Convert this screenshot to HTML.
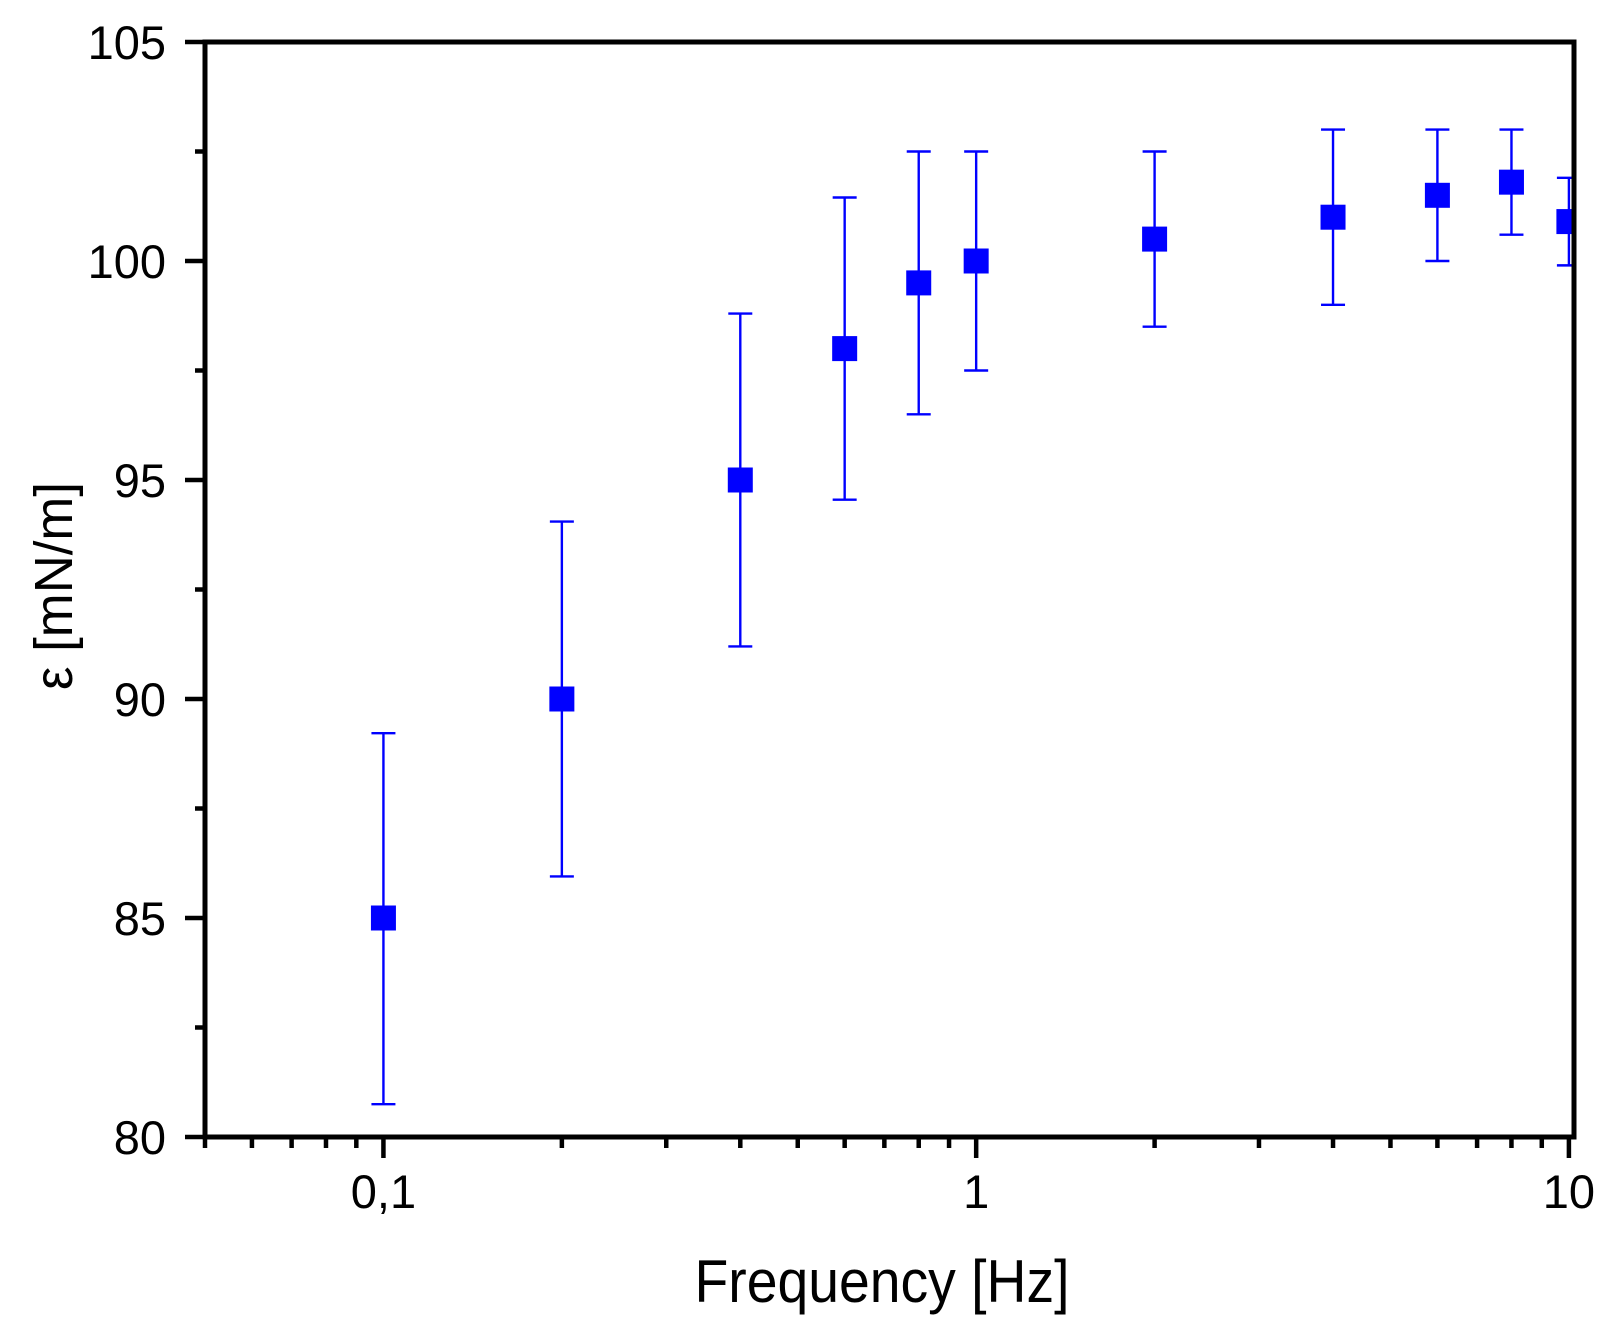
<!DOCTYPE html>
<html><head><meta charset="utf-8"><style>html,body{margin:0;padding:0;background:#fff}svg{display:block}</style></head>
<body>
<svg id="chart" width="1622" height="1331" viewBox="0 0 1622 1331" xmlns="http://www.w3.org/2000/svg" font-family="Liberation Sans, Arial, sans-serif">
<defs><clipPath id="clip"><rect x="205" y="42" width="1369" height="1096"/></clipPath></defs>
<g id="marks" clip-path="url(#clip)"></g>
<g id="axes"></g>
<text x="882" y="1302" font-size="60" text-anchor="middle" textLength="375" lengthAdjust="spacingAndGlyphs">Frequency [Hz]</text>
<text transform="translate(72,586) rotate(-90)" font-size="54" text-anchor="middle" textLength="208" lengthAdjust="spacingAndGlyphs">ε [mN/m]</text>
</svg>
<script>
const freqs = [0.1, 0.2, 0.4, 0.6, 0.8, 1, 2, 4, 6, 8, 10];
const values = [85, 90, 95, 98, 99.5, 100, 100.5, 101, 101.5, 101.8, 100.9];
const errLow = [80.75, 85.95, 91.2, 94.55, 96.5, 97.5, 98.5, 99, 100, 100.6, 99.9];
const errHigh = [89.22, 94.05, 98.8, 101.45, 102.5, 102.5, 102.5, 103, 103, 103, 101.9];
const yTicks = [80, 85, 90, 95, 100, 105];
const yTickLabels = ['80', '85', '90', '95', '100', '105'];
const xTicks = [0.1, 1, 10];
const xTickLabels = ['0,1', '1', '10'];

const NS = 'http://www.w3.org/2000/svg';
const L = 205, R = 1574, T = 42, B = 1137;
const xMin = 0.05, xMax = 10.2, yMin = 80, yMax = 105;
const lx0 = Math.log10(xMin), lx1 = Math.log10(xMax);
function xs(v){ return L + (Math.log10(v) - lx0) / (lx1 - lx0) * (R - L); }
function ys(v){ return B - (v - yMin) / (yMax - yMin) * (B - T); }
function mk(tag, attrs, parent){ const e = document.createElementNS(NS, tag); for (const k in attrs) e.setAttribute(k, attrs[k]); parent.appendChild(e); return e; }

const marks = document.getElementById('marks');
for (let i = 0; i < freqs.length; i++) {
  const x = xs(freqs[i]);
  const g = mk('g', {}, marks);
  
  
  const eb = mk('line', {x1: x, x2: x, y1: ys(errLow[i]), y2: ys(errHigh[i]), stroke: '#0000ff', 'stroke-width': 2.4}, g);
  
  
  [errLow[i], errHigh[i]].forEach(v => {
    const c = mk('line', {x1: x - 12, x2: x + 12, y1: ys(v), y2: ys(v), stroke: '#0000ff', 'stroke-width': 2.4}, g);
    
    
  });
  const m = mk('rect', {x: x - 12.5, y: ys(values[i]) - 12.5, width: 25, height: 25, fill: '#0000ff'}, g);
  
  
}

const axes = document.getElementById('axes');
const frame = mk('rect', {x: L, y: T, width: R - L, height: B - T, fill: 'none', stroke: '#000', 'stroke-width': 5}, axes);


for (let v = yMin; v <= yMax; v += 2.5) {
  const major = (v % 5 === 0);
  const t = mk('line', {x1: L - (major ? 20 : 10), x2: L, y1: ys(v), y2: ys(v), stroke: '#000', 'stroke-width': 4.5}, axes);
  
  
}
yTicks.forEach((v, i) => {
  const t = mk('text', {x: 166, y: ys(v) + 17, 'font-size': 47, 'text-anchor': 'end'}, axes);
  t.textContent = yTickLabels[i];
  
  
});
for (let d = -2; d <= 1; d++) {
  for (let k = 1; k <= 9; k++) {
    const v = k * Math.pow(10, d);
    if (v < xMin - 1e-9 || v > xMax) continue;
    const major = (k === 1);
    const t = mk('line', {x1: xs(v), x2: xs(v), y1: B, y2: B + (major ? 21 : 11), stroke: '#000', 'stroke-width': 4.5}, axes);
    
    
  }
}
xTicks.forEach((v, i) => {
  const t = mk('text', {x: xs(v), y: 1208, 'font-size': 47, 'text-anchor': 'middle'}, axes);
  t.textContent = xTickLabels[i];
  
  
});
</script>
</body></html>
